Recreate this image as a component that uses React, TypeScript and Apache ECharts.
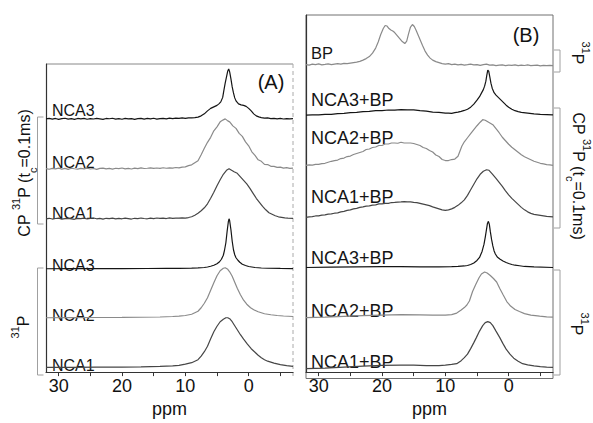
import React, { useEffect, useRef } from 'react';
import * as echarts from 'echarts';

type Pt = [number, number];

// ---------- tick labels ----------
const majorTicks = [30, 20, 10, 0];
const allTicks = [30, 25, 20, 15, 10, 5, 0, -5];
const xMin = -7;
const xMax = 32;

// ---------- Panel A: CP 31P (tc = 0.1 ms) ----------
const cpA_NCA3: Pt[] = [[32,0],[31.5,1],[31,-0.5],[30.5,0.8],[30,-1],[29.5,0.5],[29,1.2],[28.5,-0.5],[28,0.3],[27.5,-1],[27,0.8],[26.5,0],[26,1],[25.5,-0.8],[25,0.5],[24.5,-0.3],[24,1],[23.5,0],[23,-1],[22.5,0.8],[22,0.2],[21.5,1.2],[21,-0.5],[20.5,0.5],[20,-0.8],[19.5,1],[19,0],[18.5,0.6],[18,-1],[17.5,0.4],[17,1],[16.5,-0.5],[16,0.8],[15.5,0],[15,1.2],[14.5,-0.6],[14,0.5],[13.5,1],[13,0],[12.5,1.4],[12,0.5],[11.5,1.5],[11,0.8],[10.5,2],[10,1],[9.5,2],[9,1.8],[8.5,2.5],[8,3.5],[7.5,6],[7,10],[6.5,16],[6,21],[5.5,24],[5,27],[4.7,30],[4.4,34],[4.1,43],[3.9,58],[3.7,72],[3.5,84],[3.3,96],[3.15,100],[3.0,94],[2.8,80],[2.6,64],[2.4,52],[2.2,42],[2.0,36],[1.6,30],[1.2,28],[0.8,27],[0.4,25],[0,21],[-0.4,16],[-0.8,10],[-1.2,6],[-1.6,4],[-2,2.5],[-2.5,1.5],[-3,1.8],[-3.5,0.5],[-4,1],[-4.5,0],[-5,0.8],[-5.5,-0.3],[-6,0.5],[-6.5,0],[-7,0.3]];
const cpA_NCA2: Pt[] = [[32,0.5],[31.5,-0.8],[31,1],[30.5,0],[30,1.5],[29.5,-0.5],[29,0.8],[28.5,-1],[28,1.2],[27.5,0.2],[27,-0.6],[26.5,1],[26,0],[25.5,1.4],[25,-0.4],[24.5,0.6],[24,-1],[23.5,0.8],[23,1.5],[22.5,0],[22,1],[21.5,-0.5],[21,1.2],[20.5,0.4],[20,1.6],[19.5,0],[19,1],[18.5,-0.3],[18,1.4],[17.5,0.5],[17,1.8],[16.5,0.6],[16,1.2],[15.5,2],[15,0.8],[14.5,1.6],[14,1],[13.5,2.2],[13,1.2],[12.5,2],[12,1.5],[11.5,2.6],[11,2],[10.5,3.5],[10,4],[9.5,6.5],[9,8],[8.5,12],[8,16],[7.5,28],[7,41],[6.5,53],[6,63],[5.5,76],[5,84],[4.5,94],[4,98],[3.7,100],[3.3,96],[3,94],[2.5,86],[2,81],[1.5,71],[1,65],[0.5,54],[0,46],[-0.5,34],[-1,27],[-1.5,18],[-2,15],[-2.5,9],[-3,8.5],[-3.5,5],[-4,5],[-4.5,3],[-5,3.5],[-5.5,1.5],[-6,2.5],[-6.5,0.8],[-7,1.2]];
const cpA_NCA1: Pt[] = [[32,0],[31.5,1],[31,-0.5],[30.5,0.6],[30,1.2],[29.5,-0.8],[29,0.4],[28.5,1],[28,0],[27.5,-1],[27,0.8],[26.5,0.2],[26,1.3],[25.5,-0.4],[25,0.6],[24.5,1.5],[24,0],[23.5,0.8],[23,-0.6],[22.5,1],[22,0.3],[21.5,1.2],[21,-0.2],[20.5,0.9],[20,0],[19.5,1.4],[19,0.5],[18.5,-0.5],[18,1],[17.5,0.3],[17,1.5],[16.5,0.6],[16,0],[15.5,1.2],[15,0.4],[14.5,1.6],[14,0.8],[13.5,1.2],[13,0.5],[12.5,1.8],[12,1],[11.5,1.4],[11,1.2],[10.5,2],[10,1.5],[9.5,2.5],[9,4],[8.5,7],[8,11],[7.5,16],[7,22],[6.5,30],[6,41],[5.5,53],[5,66],[4.5,78],[4,89],[3.5,97],[3.1,100],[2.7,97],[2.3,94],[1.8,91],[1.3,84],[0.8,77],[0.3,70],[-0.2,61],[-0.7,51],[-1.2,41],[-1.7,33],[-2.2,25],[-2.7,18],[-3.2,12],[-3.7,9],[-4.2,6],[-4.7,4],[-5.2,3],[-5.7,2],[-6.2,1.5],[-7,1]];

// ---------- Panel A: 31P ----------
const pA_NCA3: Pt[] = [[32,0],[28,0.2],[24,0.3],[20,0.4],[16,0.5],[13,0.6],[11,0.8],[9,1.2],[8,1.6],[7,2.5],[6.5,3.5],[6,5],[5.5,7],[5,10],[4.6,14],[4.3,19],[4,27],[3.8,38],[3.6,52],[3.4,75],[3.2,95],[3.1,100],[3.0,96],[2.8,78],[2.6,55],[2.4,38],[2.2,28],[2,22],[1.7,17],[1.4,13],[1,9],[0.5,6.5],[0,4.5],[-0.5,3.5],[-1,2.5],[-2,1.5],[-3,1],[-5,0.6],[-7,0.4]];
const pA_NCA2: Pt[] = [[32,0],[28,0.3],[24,0.5],[20,0.7],[17,1],[14,1.5],[12,2.5],[11,3.2],[10,4.5],[9,7],[8,13],[7.5,20],[7,29],[6.5,40],[6,55],[5.5,70],[5,84],[4.5,94],[4,99],[3.7,100],[3.3,97],[3,92],[2.6,83],[2.2,71],[1.8,59],[1.3,46],[0.8,35],[0.3,27],[-0.3,20],[-0.8,16],[-1.5,12],[-2.5,8],[-3.5,6],[-4.5,4.5],[-5.5,3.5],[-7,2.5]];
const pA_NCA1: Pt[] = [[32,0.5],[28,0.7],[24,1],[20,1.3],[17,1.7],[14,2.5],[12,3.5],[11,4.5],[10,7],[9,10],[8,16],[7.5,23],[7,32],[6.5,43],[6,58],[5.5,72],[5,83],[4.5,92],[4,97],[3.6,100],[3.3,100],[3,98],[2.6,92],[2.2,84],[1.8,76],[1.3,66],[0.8,57],[0.2,47],[-0.4,38],[-1,31],[-1.5,25],[-2,20],[-2.5,16],[-3,13],[-4,9],[-5,6],[-6,4],[-7,2.5]];

// ---------- Panel B ----------
const bp_31P: Pt[] = [[32,0],[31.5,-1],[31,1],[30.5,0],[30,1.5],[29.5,-0.5],[29,0.5],[28.5,1.5],[28,0],[27.5,1],[27,2],[26.5,1],[26,2.5],[25.5,2],[25,3],[24.5,4],[24,5],[23.5,6.5],[23,9],[22.5,12],[22,16],[21.5,23],[21,33],[20.6,45],[20.2,60],[19.8,72],[19.5,78],[19.2,77],[18.9,72],[18.6,69],[18.3,67],[18,64],[17.6,58],[17.2,52],[16.8,46],[16.4,42],[16.1,47],[15.8,62],[15.5,75],[15.2,80],[14.9,76],[14.6,68],[14.3,59],[14,50],[13.6,38],[13.2,27],[12.8,19],[12.4,13],[12,9],[11.5,6],[11,4],[10.5,2],[10,1],[9.5,2],[9,0],[8.5,1],[8,-0.5],[7.5,0.5],[7,-1],[6.5,0],[6,1],[5.5,-0.5],[5,0],[4.5,-1.5],[4,0],[3.5,1],[3,-1],[2.5,-0.5],[2,-2],[1.5,-1],[1,-0.5],[0.5,-2],[0,-1],[-0.5,-1.5],[-1,-0.5],[-1.5,-2],[-2,-1],[-2.5,-1.8],[-3,-0.5],[-3.5,-2],[-4,-1.5],[-4.5,-1],[-5,-2.5],[-5.5,-1.5],[-6,-2],[-6.5,-1.5],[-7,-2]];
const cpB_NCA3: Pt[] = [[32,0],[31,0.8],[30,0.6],[29,1.8],[28,1.6],[27,3.2],[26,3.6],[25,5.3],[24,5.6],[23,7.3],[22,7.6],[21,9.3],[20,9.2],[19,10.4],[18,10.2],[17,11.3],[16,10.8],[15,10.8],[14,9.2],[13,8.2],[12,6.2],[11,5.7],[10,4.3],[9.5,4.2],[9,3.8],[8.5,5],[8,6],[7.5,7.5],[7,9.5],[6.5,12],[6,16],[5.5,22],[5,30],[4.6,37],[4.3,44],[4,51],[3.8,58],[3.6,68],[3.45,80],[3.3,90],[3.15,88],[3,78],[2.8,64],[2.6,54],[2.3,45],[2,40],[1.6,35],[1.2,30],[0.8,25],[0.4,20],[0,16],[-0.5,12],[-1,9],[-1.5,7],[-2,5.5],[-3,4],[-4,2.5],[-5,1.5],[-6,1],[-7,0.5]];
const cpB_NCA2: Pt[] = [[32,0],[31.5,1],[31,0.5],[30.5,2],[30,2],[29.5,3.5],[29,4],[28.5,6],[28,8],[27.5,9.5],[27,10.5],[26.5,13.5],[26,14.5],[25.5,17.5],[25,18.5],[24.5,21.5],[24,23.5],[23.5,25.5],[23,27.5],[22.5,31.5],[22,32.5],[21.5,35.5],[21,36.5],[20.5,39.5],[20,39.5],[19.5,42.5],[19,42.5],[18.5,44.5],[18,44.5],[17.5,44],[17,46],[16.5,44.5],[16,44.5],[15.5,44.5],[15,43.5],[14.5,41.5],[14,39.5],[13.5,35.5],[13,33.5],[12.5,29.5],[12,26.5],[11.5,20.5],[11,17.5],[10.5,11.5],[10,9.5],[9.5,9.5],[9,11.5],[8.5,12.5],[8,18],[7.7,28],[7.4,38],[7,47],[6.5,55],[6,63],[5.5,71],[5,79],[4.5,86],[4.1,91],[3.7,90],[3.3,87],[2.9,84],[2.5,81],[2,73],[1.5,65],[1,56],[0.5,49],[0,42],[-0.5,36],[-1,31],[-1.5,26],[-2,21],[-2.5,17],[-3,14],[-3.5,11],[-4,8],[-4.5,6],[-5,4],[-5.5,3],[-6,1.5],[-6.5,1],[-7,0]];
const cpB_NCA1: Pt[] = [[32,0],[31.5,1],[31,1.5],[30.5,2.8],[30,3],[29.5,4.5],[29,5],[28.5,6.4],[28,7],[27.5,8.3],[27,9],[26.5,11],[26,12],[25.5,14],[25,15],[24.5,17],[24,18],[23.5,20],[23,21],[22.5,22.6],[22,23],[21.5,24.6],[21,25],[20.5,26.8],[20,27],[19.5,28],[19,28],[18.5,29.6],[18,30],[17.5,30.5],[17,31],[16.5,31.6],[16,31],[15.5,30.8],[15,30],[14.5,29.3],[14,28],[13.5,26.5],[13,25],[12.5,23.4],[12,21],[11.5,19],[11,17],[10.5,15],[10,14],[9.5,15],[9,17],[8.5,20],[8,24],[7.5,29],[7,35],[6.5,44],[6,55],[5.5,66],[5,77],[4.5,86],[4,92],[3.5,95],[3.1,94],[2.6,87],[2,78],[1.5,70],[1,62],[0.5,53],[0,45],[-0.5,38],[-1,32],[-1.5,26],[-2,20],[-2.5,15],[-3,11],[-3.5,8],[-4,6],[-4.5,5],[-5,4],[-6,2],[-7,1]];
const pB_NCA3: Pt[] = [[32,0],[28,0.5],[24,1],[20,1.5],[17,1.5],[14,1.2],[11,1.2],[9,1.5],[8,2],[7,3],[6.5,4],[6,6],[5.5,9],[5,14],[4.6,20],[4.2,32],[3.9,46],[3.7,60],[3.5,76],[3.35,88],[3.2,92],[3.05,86],[2.9,72],[2.7,56],[2.5,43],[2.3,33],[2.1,27],[1.8,21],[1.4,17],[0.9,13],[0.4,10],[0,8],[-0.5,6],[-1,4.5],[-1.7,3.5],[-2.5,2],[-4,1],[-7,0]];
const pB_NCA2: Pt[] = [[32,0],[29,1],[26,2.5],[23,4],[20,5],[17,6],[14,5.5],[12,5],[10,5],[9,6],[8.2,9],[7.5,15],[7,20],[6.6,25],[6.2,33],[5.7,52],[5.2,66],[4.7,79],[4.3,87],[3.8,91],[3.4,89],[2.9,84],[2.4,78],[1.9,71],[1.4,58],[0.9,46],[0.3,32],[-0.3,23],[-1,16],[-1.7,12],[-2.5,8],[-3.5,5],[-4.9,3],[-6,1.5],[-7,1]];
const pB_NCA1: Pt[] = [[32,-2],[29,-1],[26,1],[23,3],[20,4.5],[17,5],[15,5],[13,4],[11,4],[10,5],[9,6.5],[8.2,8],[7.5,14],[7,20],[6.5,27],[6,38],[5.5,50],[5.1,60],[4.6,73],[4.1,84],[3.7,90],[3.3,92],[2.9,90],[2.5,84],[2,73],[1.4,60],[0.9,48],[0.4,37],[-0.2,27],[-0.8,19],[-1.5,13],[-2.2,8],[-3,5.5],[-4,3.5],[-5,2],[-6,1],[-7,0.5]];

// ---------- labels ----------
const labelsA = ['NCA3', 'NCA2', 'NCA1', 'NCA3', 'NCA2', 'NCA1'];
const labelsB = ['BP', 'NCA3+BP', 'NCA2+BP', 'NCA1+BP', 'NCA3+BP', 'NCA2+BP', 'NCA1+BP'];

// ---------- layout (pixels) ----------
const FONT = 'Liberation Sans, Arial, Helvetica, sans-serif';
const PX = 0.51; // px per intensity unit
const gA = { left: 46, top: 64, width: 247, height: 314.5 };
const gB = { left: 306, top: 15, width: 247, height: 363.5 };
const BLACK = '#151515';
const GRAY = '#8a8a8a';
const DARK = '#464646';

const specsA = [
  { d: cpA_NCA3, off: 258.5, c: BLACK, ly: 110 },
  { d: cpA_NCA2, off: 207.5, c: GRAY, ly: 162 },
  { d: cpA_NCA1, off: 156.5, c: DARK, ly: 213 },
  { d: pA_NCA3, off: 105.5, c: BLACK, ly: 265 },
  { d: pA_NCA2, off: 55.5, c: GRAY, ly: 315 },
  { d: pA_NCA1, off: 4.5, c: DARK, ly: 365 },
];
const specsB = [
  { d: bp_31P, off: 313, c: GRAY, ly: 53 },
  { d: cpB_NCA3, off: 261.5, c: BLACK, ly: 100 },
  { d: cpB_NCA2, off: 210.5, c: GRAY, ly: 138 },
  { d: cpB_NCA1, off: 157.5, c: DARK, ly: 197 },
  { d: pB_NCA3, off: 106.5, c: BLACK, ly: 258 },
  { d: pB_NCA2, off: 55.5, c: GRAY, ly: 311 },
  { d: pB_NCA1, off: 4.5, c: DARK, ly: 362 },
];

function makeXAxis(gridIndex: number) {
  return {
    type: 'value',
    gridIndex,
    inverse: true,
    min: xMin,
    max: xMax,
    name: 'ppm',
    nameLocation: 'middle',
    nameGap: 24,
    nameTextStyle: { fontSize: 18, color: '#111', fontFamily: FONT },
    axisLine: { show: true, onZero: false, lineStyle: { color: '#333', width: 1.2 } },
    axisTick: { show: true, inside: false, length: 4, customValues: allTicks, lineStyle: { color: '#333' } },
    axisLabel: { show: true, customValues: majorTicks, fontSize: 18, color: '#111', margin: 5, fontFamily: FONT },
    splitLine: { show: false },
  };
}
function makeYAxis(gridIndex: number, max: number, lineColor: string) {
  return {
    type: 'value',
    gridIndex,
    min: 0,
    max,
    axisLine: { show: true, onZero: false, lineStyle: { color: lineColor, width: 1.2 } },
    axisTick: { show: false },
    axisLabel: { show: false },
    splitLine: { show: false },
  };
}

function sideLabel(x: number, y: number, rot: number, cp: boolean) {
  const text = cp ? '{m|CP }{sup|31}{m|P (t}{sub|c}{m|=0.1ms)}' : '{sup|31}{m|P}';
  return {
    type: 'text',
    x,
    y,
    rotation: rot,
    silent: true,
    style: {
      text,
      align: 'center',
      verticalAlign: 'middle',
      fill: '#111',
      fontFamily: FONT,
      rich: {
        m: { fontSize: 16, lineHeight: 28, fontFamily: FONT, fill: '#111' },
        sup: { fontSize: 11, lineHeight: 12, verticalAlign: 'top', fontFamily: FONT, fill: '#111' },
        sub: { fontSize: 11, lineHeight: 8, verticalAlign: 'bottom', fontFamily: FONT, fill: '#111' },
      },
    },
  };
}

function bracket(x: number, y1: number, y2: number, dir: number) {
  return {
    type: 'polyline',
    silent: true,
    shape: { points: [[x + dir * 6, y1], [x, y1], [x, y2], [x + dir * 6, y2]] },
    style: { stroke: '#a0a0a0', lineWidth: 1, fill: 'none' },
  };
}

export default function App() {
  const ref = useRef<HTMLDivElement>(null);
  useEffect(() => {
    if (!ref.current) return;
    const chart = echarts.init(ref.current, null, { renderer: 'svg' });
    const series: any[] = [];
    specsA.forEach((s) =>
      series.push({
        type: 'line', xAxisIndex: 0, yAxisIndex: 0, symbol: 'none', silent: true, smooth: false,
        lineStyle: { color: s.c, width: 1.2 },
        data: s.d.map(([x, v]) => [x, s.off + v * PX]),
      })
    );
    specsB.forEach((s) =>
      series.push({
        type: 'line', xAxisIndex: 1, yAxisIndex: 1, symbol: 'none', silent: true, smooth: false,
        lineStyle: { color: s.c, width: 1.2 },
        data: s.d.map(([x, v]) => [x, s.off + v * PX]),
      })
    );
    const graphics: any[] = [
      // Panel A frame: top solid gray, right dashed
      { type: 'line', silent: true, shape: { x1: gA.left, y1: gA.top, x2: gA.left + gA.width, y2: gA.top }, style: { stroke: '#888', lineWidth: 1 } },
      { type: 'line', silent: true, shape: { x1: gA.left + gA.width, y1: gA.top, x2: gA.left + gA.width, y2: gA.top + gA.height }, style: { stroke: '#aaa', lineWidth: 1, lineDash: [4, 3] } },
      // Panel B frame
      { type: 'rect', silent: true, shape: { x: gB.left, y: gB.top, width: gB.width, height: gB.height }, style: { stroke: '#707070', lineWidth: 1, fill: 'none' } },
      // panel tags
      { type: 'text', x: 271, y: 82, silent: true, style: { text: '(A)', fontSize: 20, fontFamily: FONT, fill: '#111', align: 'center', verticalAlign: 'middle' } },
      { type: 'text', x: 526, y: 35, silent: true, style: { text: '(B)', fontSize: 20, fontFamily: FONT, fill: '#111', align: 'center', verticalAlign: 'middle' } },
      // brackets
      bracket(37.5, 117, 224, 1),
      bracket(37.5, 268, 375, 1),
      bracket(560, 50, 72, -1),
      bracket(560, 108, 228, -1),
      bracket(560, 270, 375, -1),
      // side labels
      sideLabel(24, 173, Math.PI / 2, true),
      sideLabel(23, 327, Math.PI / 2, false),
      sideLabel(577, 53, -Math.PI / 2, false),
      sideLabel(578, 176, -Math.PI / 2, true),
      sideLabel(576, 324, -Math.PI / 2, false),
    ];
    specsA.forEach((s, i) =>
      graphics.push({ type: 'text', x: 52, y: s.ly, silent: true, style: { text: labelsA[i], fontSize: 16, fontFamily: FONT, fill: '#151515', align: 'left', verticalAlign: 'middle' } })
    );
    specsB.forEach((s, i) =>
      graphics.push({ type: 'text', x: 311, y: s.ly, silent: true, style: { text: labelsB[i], fontSize: i === 0 ? 16.5 : 18, fontFamily: FONT, fill: '#151515', align: 'left', verticalAlign: 'middle' } })
    );

    chart.setOption({
      animation: false,
      backgroundColor: '#fff',
      textStyle: { fontFamily: FONT },
      grid: [
        { left: gA.left, top: gA.top, width: gA.width, height: gA.height, containLabel: false },
        { left: gB.left, top: gB.top, width: gB.width, height: gB.height, containLabel: false },
      ],
      xAxis: [makeXAxis(0), makeXAxis(1)],
      yAxis: [makeYAxis(0, gA.height, '#333'), makeYAxis(1, gB.height, '#333')],
      series,
      graphic: graphics,
    });
    return () => chart.dispose();
  }, []);
  return (
    <div
      ref={ref}
      style={{ position: 'fixed', left: 0, top: 0, width: 593, height: 423, background: '#fff' }}
    />
  );
}
